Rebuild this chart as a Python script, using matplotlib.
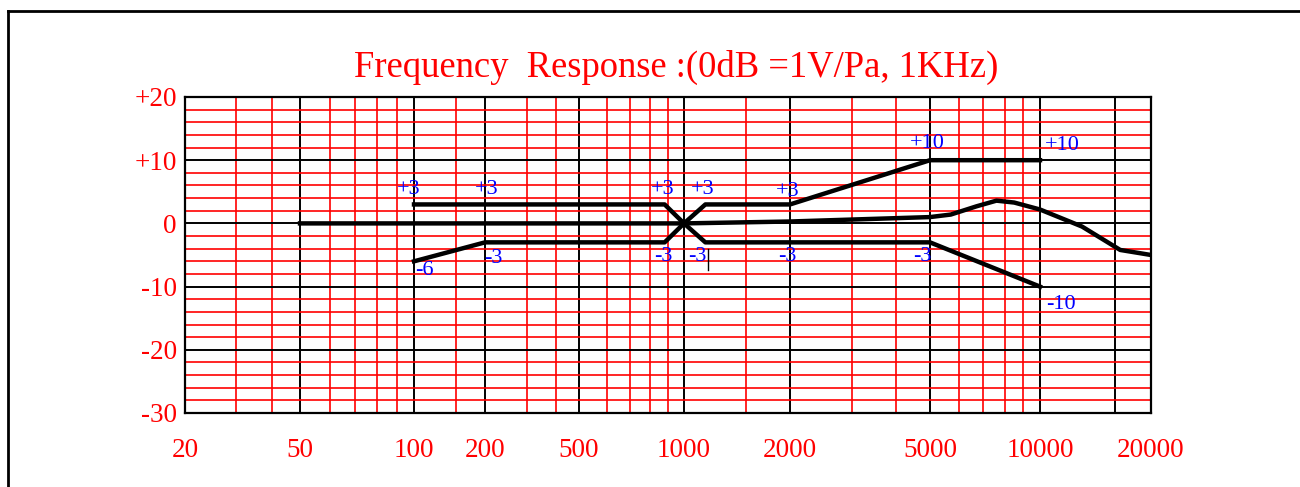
import numpy as np
import matplotlib.pyplot as plt
from matplotlib.lines import Line2D

plt.rcParams["font.family"] = ["Liberation Serif", "DejaVu Serif"]

# measured response curve (Hz, dB)
resp_freq = [50, 1000, 2000, 5000, 5700, 6700, 7600, 8500, 10000, 13000, 16500, 20000]
resp_db = [0, 0, 0.3, 1.0, 1.4, 2.7, 3.6, 3.3, 2.2, -0.5, -4.2, -5.0]

# tolerance window, drawn as two crossing polylines
tol_a_freq = [100, 880, 1000, 1150, 5000, 10000]
tol_a_db = [3, 3, 0, -3, -3, -10]
tol_b_freq = [100, 200, 880, 1000, 1150, 2000, 5000, 10000]
tol_b_db = [-6, -3, -3, 0, 3, 3, 10, 10]

# blue tolerance labels
label_text = ["+3", "+3", "+3", "+3", "+3", "+10", "+10",
              "-6", "-3", "-3", "-3", "-3", "-3", "-10"]
label_freq = [97, 204, 870, 1130, 1970, 4900, 11500,
              111, 216, 875, 1090, 1970, 4740, 11400]
label_db = [5.3, 5.3, 5.3, 5.3, 5.1, 12.7, 12.4,
            -7.4, -5.5, -5.2, -5.3, -5.3, -5.3, -12.9]

# axis ticks
x_major = [20, 50, 100, 200, 500, 1000, 2000, 5000, 10000, 16000, 20000]
x_labels = ["20", "50", "100", "200", "500", "1000", "2000", "5000", "10000", "", "20000"]
x_minor = [30, 40, 60, 70, 80, 90, 150, 300, 400, 600, 700, 800, 900,
           1500, 3000, 4000, 6000, 7000, 8000, 9000]
y_major = [-30, -20, -10, 0, 10, 20]
y_labels = ["-30", "-20", "-10", "0", "+10", "+20"]
y_minor = list(range(-30, 21, 2))

# the printed grid is not a true log axis: each labelled step has its own width
seg_freq = np.log10([20, 50, 100, 200, 500, 1000, 2000, 5000, 10000, 20000])
seg_pos = np.array([185, 300, 414, 485, 579, 684, 790, 930, 1040, 1151], float)


def fwd(f):
    f = np.maximum(np.asarray(f, float), 1e-3)
    return np.interp(np.log10(f), seg_freq, seg_pos)


def inv(p):
    return 10 ** np.interp(np.asarray(p, float), seg_pos, seg_freq)


W, H = 1300, 487
fig = plt.figure(figsize=(W / 100, H / 100), dpi=100)
ax = fig.add_axes([185 / W, 1 - 413 / H, (1151 - 185) / W, (413 - 97) / H])

ax.set_xscale("function", functions=(fwd, inv))
ax.set_xlim(20, 20000)
ax.set_ylim(-30, 20)

ax.set_xticks(x_major)
ax.set_xticklabels(x_labels)
ax.set_xticks(x_minor, minor=True)
ax.set_yticks(y_major)
ax.set_yticklabels(y_labels)
ax.set_yticks(y_minor, minor=True)

ax.set_axisbelow(True)
ax.grid(which="minor", color="red", linewidth=1.2)
ax.grid(which="major", color="black", linewidth=1.4)
ax.tick_params(axis="both", which="both", length=0, labelsize=19.5, labelcolor="red")
ax.tick_params(axis="x", pad=18)
ax.tick_params(axis="y", pad=6)
for lbl in ax.get_yticklabels():
    lbl.set_y(lbl.get_position()[1])
for s in ax.spines.values():
    s.set_linewidth(1.6)

ax.plot(resp_freq, resp_db, color="black", linewidth=3.2, solid_joinstyle="round")
ax.plot(tol_a_freq, tol_a_db, color="black", linewidth=3.2)
ax.plot(tol_b_freq, tol_b_db, color="black", linewidth=3.2)
# small cursor mark left in the original drawing
ax.plot([1170, 1170], [-4.1, -7.3], color="black", linewidth=1)

for t, f, d in zip(label_text, label_freq, label_db):
    ax.text(f, d, t, color="blue", fontsize=16, ha="center", va="center")

fig.text(676 / W, 1 - 77 / H, "Frequency  Response :(0dB =1V/Pa, 1KHz)",
         color="red", fontsize=26.4, ha="center", va="baseline")

# outer frame (only left and top edges are visible in the crop)
fig.add_artist(Line2D([8 / W, 8 / W], [0, 1 - 11 / H], color="black", linewidth=2))
fig.add_artist(Line2D([8 / W, 1], [1 - 11 / H, 1 - 11 / H], color="black", linewidth=2))

fig.savefig("out.png", dpi=100)
